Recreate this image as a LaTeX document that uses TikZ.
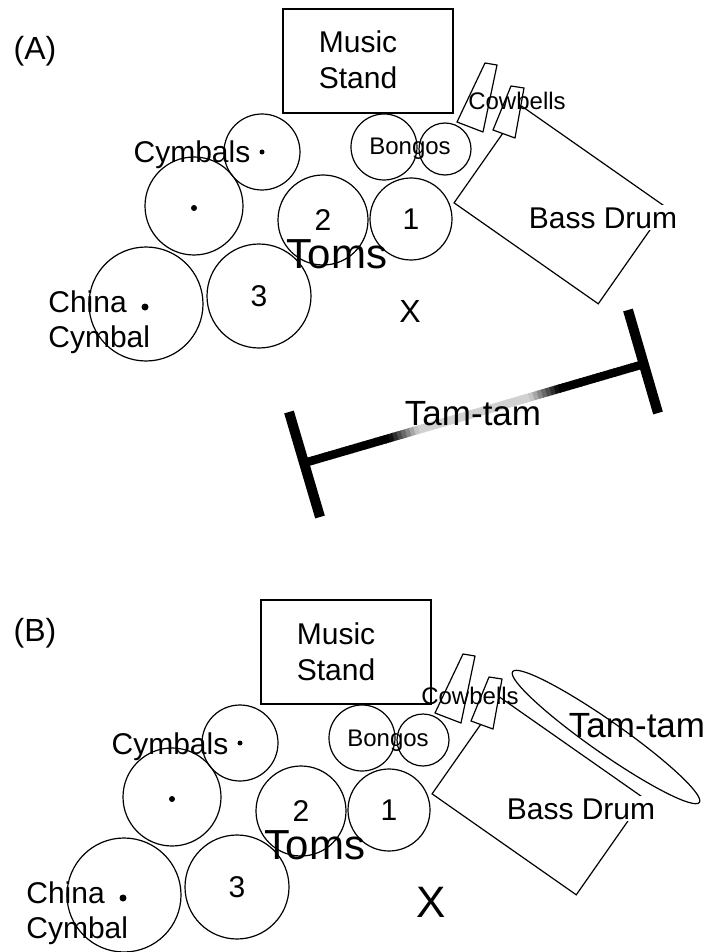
\documentclass[tikz,border=0pt]{standalone}
\usepackage{fontspec}
\setmainfont{Liberation Sans}
\usetikzlibrary{positioning, calc, shapes.geometric}
\tikzset{
  drum/.style={
    draw,
    circle,
    line width=0.6pt,
    inner sep=0pt,
    font=\fontsize{15}{17}\selectfont
  },
  dot/.style={
    circle,
    fill,
    inner sep=0pt
  },
  box/.style={
    draw,
    rectangle,
    line width=0.6pt,
    inner sep=0pt
  },
  bell/.style={
    draw,
    fill=white,
    line width=0.6pt,
    line join=round
  },
  lbl/.style={
    inner sep=0pt,
    anchor=base,
    font=\fontsize{15}{17}\selectfont
  },
  smalllbl/.style={
    inner sep=0pt,
    anchor=base,
    font=\fontsize{12}{14}\selectfont
  },
  tag/.style={
    inner sep=0pt,
    anchor=base,
    font=\fontsize{16}{18}\selectfont
  },
  ttlbl/.style={
    inner sep=0pt,
    anchor=base,
    font=\fontsize{17.5}{20}\selectfont
  },
  ttbar/.style={
    line width=5pt
  },
  ttline/.style={
    line width=4.2pt
  }
}
\newcommand{\drumkit}{%
  \node[box, minimum width=85pt, minimum height=52pt] (stand) at (368,61) {};
  \node[lbl] (music) at (358,53) {Music};
  \node[lbl] (standlbl) at (358,89) {Stand};
  \node[drum, minimum size=38pt] (cymtop) at (262,152) {};
  \node[dot, minimum size=2.5pt] (cymtopdot) at (262,152) {};
  \node[drum, minimum size=49pt] (cymmid) at (194,206) {};
  \node[dot, minimum size=3pt] (cymmiddot) at (194,208) {};
  \node[drum, minimum size=57pt] (china) at (146,304) {};
  \node[dot, minimum size=3.5pt] (chinadot) at (145,307) {};
  \node[lbl] (cymlbl) at (192,163) {Cymbals};
  \node[lbl, anchor=base west] (chinalbl) at (48,312) {China};
  \node[lbl, anchor=base west] (chinalblb) at (48,347) {Cymbal};
  \node[drum, minimum size=52pt] (tom3) at (259,296) {3};
  \node[drum, minimum size=45pt] (tom2) at (323,220) {2};
  \node[drum, minimum size=41pt] (tom1) at (411,219) {1};
  \node[drum, minimum size=33pt] (bongoa) at (384,147) {};
  \node[drum, minimum size=26pt] (bongob) at (445,149) {};
  \node[smalllbl] (bongolbl) at (410,155) {Bongos};
  \node[box, rotate=-35, minimum width=88pt, minimum height=59pt] (bass) at (560,205) {};
  \draw[bell] (485,63) -- (497,65) -- (483,132) -- (457,122) -- cycle;
  \draw[bell] (511,86) -- (524,88) -- (515,138) -- (493,130) -- cycle;
  \node[lbl, fill=white, inner sep=1pt] (basslbl) at (603,228) {Bass Drum};
  \node[inner sep=0pt, anchor=base, font=\fontsize{21}{24}\selectfont] (toms) at (337,268) {Toms};
}

\begin{document}
\begin{tikzpicture}[x=0.5pt, y=-0.5pt]
  \useasboundingbox (0,0) rectangle (709,952);

  \node[tag] (tagA) at (35,60) {(A)};
  \begin{scope}[name prefix=a-]
    \drumkit
    \node[smalllbl] (bells) at (517,110) {Cowbells};
  \end{scope}
  \node[inner sep=0pt, anchor=base, font=\fontsize{16}{18}\selectfont] (xA) at (410,322) {X};

  \coordinate (ttL) at (304,463);
  \coordinate (ttR) at (644,364);
  \coordinate (ttLa) at (289,412);
  \coordinate (ttLb) at (320,517);
  \coordinate (ttRa) at (628,310);
  \coordinate (ttRb) at (658,413);
  \draw[ttbar] (ttLa) -- (ttLb);
  \draw[ttbar] (ttRa) -- (ttRb);
  \foreach \i in {0,...,79}{
    \pgfmathsetmacro\ta{\i/80}
    \pgfmathsetmacro\tb{(\i+1.2)/80}
    \pgfmathtruncatemacro\g{min(100,max(18,18+82*(abs(\i+0.5-40)-13)/7))}
    \draw[ttline, black!\g] ($(ttL)!\ta!(ttR)$) -- ($(ttL)!\tb!(ttR)$);
  }
  \node[ttlbl] (ttA) at (473,425) {Tam-tam};

  \node[tag] (tagB) at (35,641) {(B)};
  \begin{scope}[shift={(-22,591)}, name prefix=b-]
    \drumkit
  \end{scope}
  \node[smalllbl] (bellsB) at (470,704) {Cowbells};
  \node[draw, ellipse, fill=white, rotate=-35, line width=0.6pt, inner sep=0pt,
        minimum width=114pt, minimum height=16pt] (gongB) at (606,737) {};
  \node[ttlbl] (ttB) at (637,737) {Tam-tam};
  \node[inner sep=0pt, anchor=base, font=\fontsize{22}{24}\selectfont] (xB) at (431,917) {X};
\end{tikzpicture}
\end{document}
